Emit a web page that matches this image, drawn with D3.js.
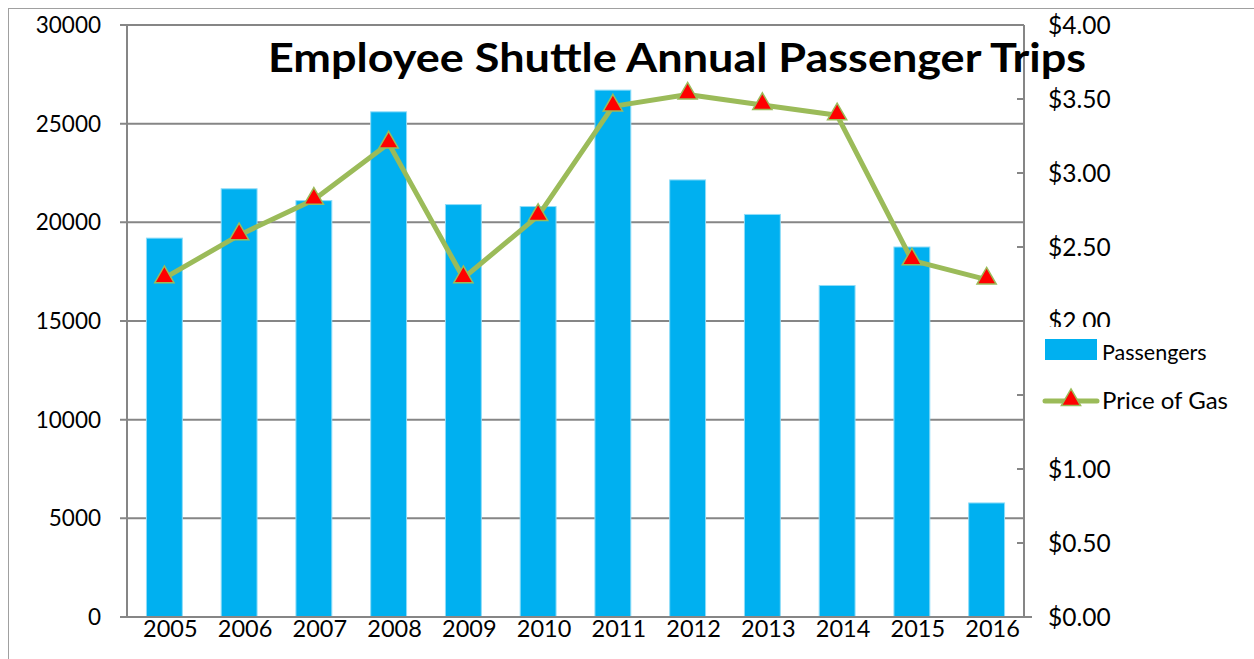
<!DOCTYPE html>
<html>
<head>
<meta charset="utf-8">
<script src="https://cdn.jsdelivr.net/npm/d3@7/dist/d3.min.js"></script>
<style>
  body { margin: 0; background: #fff; }
  text { font-family: Lato, "Open Sans", sans-serif; fill: #000; }
</style>
</head>
<body>
<svg id="chart"></svg>
<script>
// chart values
var years = ["2005", "2006", "2007", "2008", "2009", "2010", "2011", "2012", "2013", "2014", "2015", "2016"];
var passengers = [19200, 21700, 21100, 25600, 20900, 20800, 26700, 22150, 20400, 16800, 18750, 5780];
var gasPrice = [2.29, 2.58, 2.82, 3.20, 2.29, 2.71, 3.45, 3.53, 3.46, 3.39, 2.41, 2.28];
var leftTicks = [0, 5000, 10000, 15000, 20000, 25000, 30000];
var rightTicks = [0, 0.5, 1, 1.5, 2, 2.5, 3, 3.5, 4];

var w = 1254, h = 659;
// plot area (note: "top" is reserved on window, so use plot* names)
var plotLeft = 127, plotRight = 1024, plotTop = 25, plotBottom = 617;
var gridColor = "#868686";

var svg = d3.select("#chart").attr("width", w).attr("height", h);

// outer frame
svg.append("rect")
    .attr("x", 8.5).attr("y", 8.5)
    .attr("width", w).attr("height", h)
    .attr("fill", "none").attr("stroke", "#a0a0a0").attr("stroke-width", 1);

var x = d3.scaleBand().domain(years).range([plotLeft, plotRight]).paddingInner(0.52).paddingOuter(0.26);
var yL = d3.scaleLinear().domain([0, 30000]).range([plotBottom, plotTop]);
var yR = d3.scaleLinear().domain([0, 4]).range([plotBottom, plotTop]);

// gridlines + left ticks
svg.append("g").selectAll("line")
    .data(leftTicks.filter(d => d > 0))
    .join("line")
    .attr("x1", plotLeft - 7).attr("x2", plotRight)
    .attr("y1", d => yL(d)).attr("y2", d => yL(d))
    .attr("stroke", gridColor).attr("stroke-width", 2);

svg.append("g").selectAll("text")
    .data(leftTicks)
    .join("text")
    .attr("x", 101).attr("y", d => yL(d))
    .attr("dy", "0.35em")
    .attr("text-anchor", "end")
    .style("font-size", "22.5px")
    .text(d => d);

// bars
svg.append("g").selectAll("rect")
    .data(passengers)
    .join("rect")
    .attr("x", (d, i) => x(years[i]))
    .attr("width", x.bandwidth())
    .attr("y", d => yL(d))
    .attr("height", d => yL(0) - yL(d))
    .attr("fill", "#00B0F0")
    .attr("stroke", "#8fdcf8").attr("stroke-width", 1);

// axis lines
svg.append("line").attr("x1", plotLeft).attr("x2", plotLeft).attr("y1", plotTop).attr("y2", plotBottom)
    .attr("stroke", gridColor).attr("stroke-width", 2);
svg.append("line").attr("x1", plotRight).attr("x2", plotRight).attr("y1", plotTop).attr("y2", plotBottom)
    .attr("stroke", gridColor).attr("stroke-width", 2);
svg.append("line").attr("x1", plotLeft - 7).attr("x2", plotRight + 8).attr("y1", plotBottom).attr("y2", plotBottom)
    .attr("stroke", gridColor).attr("stroke-width", 2);

// right ticks
svg.append("g").selectAll("line")
    .data(rightTicks)
    .join("line")
    .attr("x1", plotRight - 7).attr("x2", plotRight)
    .attr("y1", d => yR(d)).attr("y2", d => yR(d))
    .attr("stroke", gridColor).attr("stroke-width", 2);

svg.append("g").selectAll("text")
    .data(rightTicks)
    .join("text")
    .attr("x", 1048).attr("y", d => yR(d))
    .attr("dy", "0.35em")
    .style("font-size", "24.5px")
    .text(d => "$" + d.toFixed(2));

// year labels
svg.append("g").selectAll("text")
    .data(years)
    .join("text")
    .attr("x", d => x(d) + x.bandwidth() / 2 + 6)
    .attr("y", 629)
    .attr("dy", "0.35em")
    .attr("text-anchor", "middle")
    .style("font-size", "23.5px")
    .text(d => d);

// gas price line
var cx = (d, i) => x(years[i]) + x.bandwidth() / 2;
var line = d3.line().x(cx).y(d => yR(d));
svg.append("path")
    .datum(gasPrice)
    .attr("d", line)
    .attr("fill", "none")
    .attr("stroke", "#9BBB59")
    .attr("stroke-width", 5)
    .attr("stroke-linejoin", "round");

var tri = d3.symbol().type(d3.symbolTriangle).size(160);
svg.append("g").selectAll("path")
    .data(gasPrice)
    .join("path")
    .attr("d", tri)
    .attr("transform", (d, i) => "translate(" + cx(d, i) + "," + (yR(d) - 1) + ")")
    .attr("fill", "#FF0000")
    .attr("stroke", "#9BBB59")
    .attr("stroke-width", 1.5);

// title
svg.append("text")
    .attr("x", 677).attr("y", 72)
    .attr("text-anchor", "middle")
    .attr("textLength", 818)
    .attr("lengthAdjust", "spacingAndGlyphs")
    .style("font-size", "40px")
    .style("font-weight", "bold")
    .text("Employee Shuttle Annual Passenger Trips");

// legend (white box overlaps the right axis labels)
var legend = svg.append("g");
legend.append("rect")
    .attr("x", 1035).attr("y", 327)
    .attr("width", 219).attr("height", 110)
    .attr("fill", "#fff");
legend.append("rect")
    .attr("x", 1045).attr("y", 339)
    .attr("width", 52).attr("height", 21)
    .attr("fill", "#00B0F0");
legend.append("text")
    .attr("x", 1102).attr("y", 352).attr("dy", "0.35em")
    .style("font-size", "21.5px")
    .text("Passengers");
legend.append("line")
    .attr("x1", 1045).attr("x2", 1097).attr("y1", 401).attr("y2", 401)
    .attr("stroke", "#9BBB59").attr("stroke-width", 5).attr("stroke-linecap", "round");
legend.append("path")
    .attr("d", tri)
    .attr("transform", "translate(1071,400)")
    .attr("fill", "#FF0000")
    .attr("stroke", "#9BBB59")
    .attr("stroke-width", 1.5);
legend.append("text")
    .attr("x", 1102).attr("y", 401).attr("dy", "0.35em")
    .style("font-size", "24px")
    .text("Price of Gas");
</script>
</body>
</html>
